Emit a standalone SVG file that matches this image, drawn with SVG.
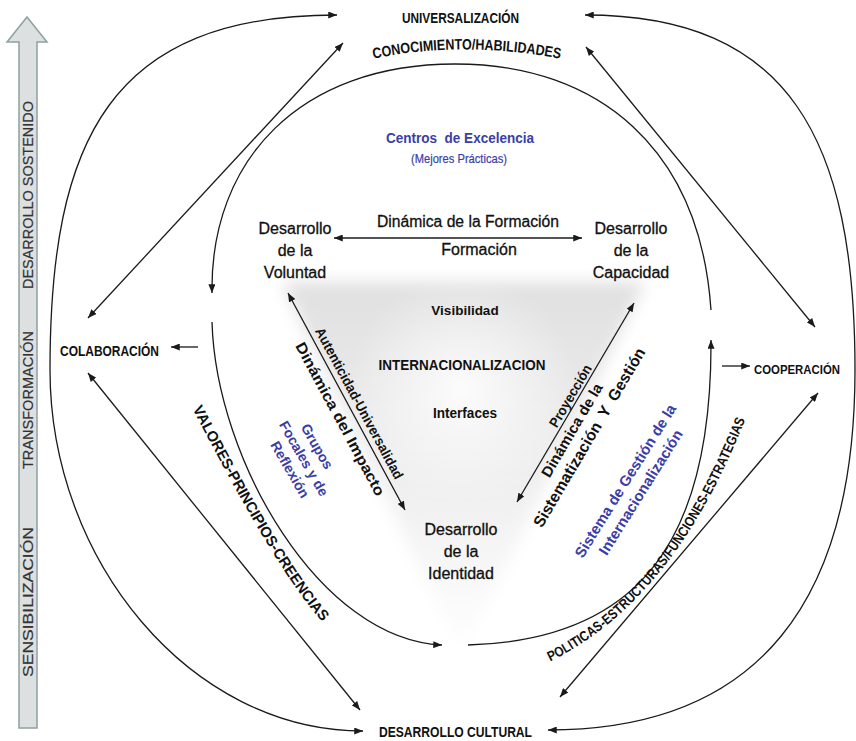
<svg xmlns="http://www.w3.org/2000/svg" width="856" height="741" viewBox="0 0 856 741">
<style>
.b{font-family:"Liberation Sans",Arial,sans-serif;font-weight:bold;fill:#111}
.r{font-family:"Liberation Sans",Arial,sans-serif;fill:#111;stroke:#111;stroke-width:0.3}
.bl{fill:#3a3ea6}
.r.bl{stroke:#3a3ea6}
.side{font-family:"Liberation Sans",Arial,sans-serif;font-size:14px;fill:#333;stroke:#333;stroke-width:0.2}
.ln{fill:none;stroke:#1a1a1a;stroke-width:1.3}
.m{text-anchor:middle}
</style>
<defs>
<marker id="ah" viewBox="0 0 10 8" refX="10" refY="4" markerWidth="9" markerHeight="7" orient="auto-start-reverse" markerUnits="userSpaceOnUse">
<path d="M0,0 L10,4 L0,8 z" fill="#1a1a1a"/>
</marker>
<linearGradient id="tg" x1="0" y1="282" x2="0" y2="655" gradientUnits="userSpaceOnUse">
<stop offset="0" stop-color="#e0e0e0"/>
<stop offset="0.6" stop-color="#f1f1f1"/>
<stop offset="1" stop-color="#ffffff"/>
</linearGradient>
<radialGradient id="wg" cx="462" cy="390" r="115" gradientUnits="userSpaceOnUse">
<stop offset="0" stop-color="#ffffff" stop-opacity="0.85"/>
<stop offset="1" stop-color="#ffffff" stop-opacity="0"/>
</radialGradient>
<filter id="blur" x="-20%" y="-20%" width="140%" height="140%"><feGaussianBlur stdDeviation="8"/></filter>
<path id="pcon" d="M372,59 Q462,40 562,59"/>
<path id="pval" d="M188,400 Q281,581 329,629"/>
<path id="ppol" d="M543,665 Q675,604 748,412"/>
</defs>
<rect width="856" height="741" fill="#ffffff"/>

<g id="side-arrow">
<polygon points="19,728 19,42 7,42 27,17 47,42 37,42 37,728" fill="#dde0e0" stroke="#8ea0a0" stroke-width="1.5"/>
<text class="side m" transform="translate(33,195) rotate(-90)" textLength="188" lengthAdjust="spacingAndGlyphs">DESARROLLO SOSTENIDO</text>
<text class="side m" transform="translate(33,400) rotate(-90)" textLength="138" lengthAdjust="spacingAndGlyphs">TRANSFORMACIÓN</text>
<text class="side m" transform="translate(33,602) rotate(-90)" textLength="150" lengthAdjust="spacingAndGlyphs">SENSIBILIZACIÓN</text>
</g>

<g id="triangle">
<polygon points="282,282 645,282 462,655" fill="url(#tg)" filter="url(#blur)"/>
<ellipse cx="462" cy="390" rx="115" ry="115" fill="url(#wg)"/>
</g>

<g id="connectors">
<path class="ln" d="M337,15 C110,15 50,140 50,370 C50,560 190,731 363,731" marker-start="url(#ah)" marker-end="url(#ah)"/>
<path class="ln" d="M585,15 C790,15 855,140 855,370 C855,600 760,730 548,730" marker-start="url(#ah)" marker-end="url(#ah)"/>
<path class="ln" d="M711,310 C700,150 600,64 455,64 C300,64 210,160 212,293" marker-end="url(#ah)"/>
<path class="ln" d="M212,322 C216,460 320,640 442,645" marker-end="url(#ah)"/>
<path class="ln" d="M468,645 C640,640 712,540 711,340" marker-end="url(#ah)"/>
<path class="ln" d="M343,43 L88,318" marker-start="url(#ah)" marker-end="url(#ah)"/>
<path class="ln" d="M88,373 L360,710" marker-start="url(#ah)" marker-end="url(#ah)"/>
<path class="ln" d="M586,47 L815,327" marker-start="url(#ah)" marker-end="url(#ah)"/>
<path class="ln" d="M818,393 L560,697" marker-start="url(#ah)" marker-end="url(#ah)"/>
<path class="ln" d="M334,238 L582,238" marker-start="url(#ah)" marker-end="url(#ah)"/>
<path class="ln" d="M288,293 L405,510" marker-start="url(#ah)" marker-end="url(#ah)"/>
<path class="ln" d="M634,303 L517,502" marker-start="url(#ah)" marker-end="url(#ah)"/>
<path class="ln" d="M198,347 L171,347" marker-end="url(#ah)"/>
<path class="ln" d="M722,366 L750,366" marker-end="url(#ah)"/>
</g>

<g id="universalizacion">
<text class="b m" x="460.5" y="23" font-size="15" textLength="117" lengthAdjust="spacingAndGlyphs">UNIVERSALIZACIÓN</text>
</g>
<g id="conocimiento">
<text class="b" font-size="15"><textPath href="#pcon" startOffset="50%" text-anchor="middle" textLength="188" lengthAdjust="spacingAndGlyphs">CONOCIMIENTO/HABILIDADES</textPath></text>
</g>
<g id="centros">
<text class="b bl m" x="460" y="143" font-size="14.5" textLength="148" lengthAdjust="spacingAndGlyphs" xml:space="preserve">Centros  de Excelencia</text>
<text class="r bl m" x="459" y="163" font-size="13" textLength="96" lengthAdjust="spacingAndGlyphs" style="stroke-width:0.2">(Mejores Prácticas)</text>
</g>
<g id="voluntad">
<text class="r m" font-size="16"><tspan x="295" y="234">Desarrollo</tspan><tspan x="295" y="256">de la</tspan><tspan x="295" y="278">Voluntad</tspan></text>
</g>
<g id="capacidad">
<text class="r m" font-size="16"><tspan x="631" y="234">Desarrollo</tspan><tspan x="631" y="256">de la</tspan><tspan x="631" y="278">Capacidad</tspan></text>
</g>
<g id="formacion">
<text class="r m" x="468" y="227" font-size="16" textLength="182" lengthAdjust="spacingAndGlyphs">Dinámica de la Formación</text>
<text class="r m" x="479" y="255" font-size="16">Formación</text>
</g>
<g id="centro">
<text class="b m" x="465" y="315" font-size="13.5">Visibilidad</text>
<text class="b m" x="462" y="370" font-size="15" textLength="167" lengthAdjust="spacingAndGlyphs">INTERNACIONALIZACION</text>
<text class="b m" x="465" y="418" font-size="14" textLength="64" lengthAdjust="spacingAndGlyphs">Interfaces</text>
</g>
<g id="identidad">
<text class="r m" font-size="16"><tspan x="461" y="535">Desarrollo</tspan><tspan x="461" y="557">de la</tspan><tspan x="461" y="579">Identidad</tspan></text>
</g>
<g id="impacto">
<text class="b m" transform="translate(355.1,405.6) rotate(61.7)" font-size="14" textLength="170" lengthAdjust="spacingAndGlyphs">Autenticidad-Universalidad</text>
<text class="b m" transform="translate(335.7,421.5) rotate(61.7)" font-size="15" textLength="172" lengthAdjust="spacingAndGlyphs">Dinámica del Impacto</text>
</g>
<g id="sistematizacion">
<text class="b m" transform="translate(574.5,398.3) rotate(-59.5)" font-size="14" textLength="70" lengthAdjust="spacingAndGlyphs">Proyección</text>
<text class="b m" transform="translate(576.3,432.8) rotate(-59.5)" font-size="15" textLength="106" lengthAdjust="spacingAndGlyphs">Dinámica de la</text>
<text class="b m" transform="translate(593.9,440.2) rotate(-59.5)" font-size="16" textLength="205" lengthAdjust="spacingAndGlyphs" xml:space="preserve">Sistematización  Y  Gestión</text>
</g>
<g id="grupos">
<text class="b bl m" transform="translate(304,458.5) rotate(60)" font-size="14"><tspan x="-4" y="-12.5">Grupos</tspan><tspan x="0" y="5">Focales y de</tspan><tspan x="2.5" y="22.5">Reflexión</tspan></text>
</g>
<g id="sistema-gestion">
<text class="b bl m" transform="translate(625.5,481) rotate(-58)" font-size="15"><tspan x="0" y="5">Sistema de Gestión de la</tspan><tspan x="-1.5" y="24">Internacionalización</tspan></text>
</g>
<g id="valores">
<text class="b" font-size="15"><textPath href="#pval" startOffset="50%" text-anchor="middle" textLength="250" lengthAdjust="spacingAndGlyphs">VALORES-PRINCIPIOS-CREENCIAS</textPath></text>
</g>
<g id="politicas">
<text class="b" font-size="14"><textPath href="#ppol" startOffset="50%" text-anchor="middle" textLength="318" lengthAdjust="spacingAndGlyphs">POLITICAS-ESTRUCTURAS/FUNCIONES-ESTRATEGIAS</textPath></text>
</g>
<g id="colaboracion">
<text class="b m" x="109.5" y="356" font-size="15" textLength="99" lengthAdjust="spacingAndGlyphs">COLABORACIÓN</text>
</g>
<g id="cooperacion">
<text class="b m" x="797" y="374" font-size="13" textLength="86" lengthAdjust="spacingAndGlyphs">COOPERACIÓN</text>
</g>
<g id="desarrollo-cultural">
<text class="b m" x="455.5" y="737" font-size="15" textLength="153" lengthAdjust="spacingAndGlyphs">DESARROLLO CULTURAL</text>
</g>
</svg>
